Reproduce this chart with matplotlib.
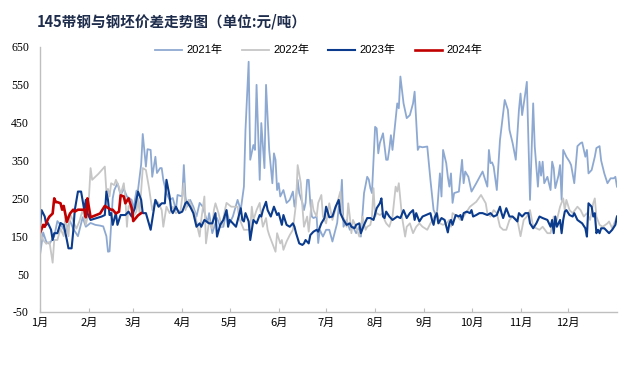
import matplotlib
matplotlib.use("Agg")
import matplotlib.pyplot as plt

# day-of-year positions and price spread values (yuan/ton)
days_2021 = [0, 2, 4, 6, 9, 11, 14, 16, 19, 21, 24, 27, 29, 32, 35, 38, 40, 42, 43, 44,
             46, 47, 49, 51, 53, 55, 58, 59, 61, 62, 64, 65, 67, 68, 70, 71, 73, 74, 76, 77,
             78, 80, 82, 84, 86, 87, 90, 91, 92, 93, 95, 97, 99, 101, 103, 106, 107, 109, 112, 114,
             116, 118, 120, 122, 125, 127, 129, 130, 132, 133, 135, 136, 137, 138, 139, 140, 142, 143, 145, 147,
             148, 149, 150, 151, 152, 154, 156, 158, 160, 161, 162, 163, 164, 166, 167, 168, 169, 170, 171, 172,
             173, 175, 176, 177, 179, 181, 183, 185, 188, 189, 190, 191, 192, 194, 196, 198, 200, 202, 203, 205,
             206, 207, 208, 209, 210, 211, 212, 213, 214, 215, 217, 219, 220, 221, 222, 223, 226, 227, 228, 230,
             232, 234, 236, 237, 239, 240, 242, 245, 247, 249, 251, 253, 254, 255, 257, 258, 259, 260, 261, 262,
             265, 267, 268, 269, 271, 273, 276, 280, 283, 284, 285, 286, 287, 289, 291, 294, 296, 297, 299, 301,
             303, 304, 305, 307, 308, 310, 312, 313, 315, 316, 317, 318, 319, 321, 323, 324, 325, 326, 328, 329,
             330, 331, 333, 335, 336, 338, 340, 342, 343, 345, 346, 347, 349, 351, 352, 354, 355, 357, 358, 359,
             361, 363, 364, 365]
vals_2021 = [100, 160, 135, 130, 150, 190, 175, 160, 190, 170, 150, 200, 175, 185, 180, 178, 176, 150, 109, 110,
             250, 272, 290, 259, 275, 255, 246, 220, 270, 272, 340, 420, 334, 380, 378, 307, 360, 317, 330, 330,
             299, 264, 246, 251, 219, 259, 255, 338, 255, 228, 246, 228, 202, 238, 228, 185, 211, 158, 198, 175,
             175, 219, 185, 202, 246, 219, 281, 431, 611, 352, 391, 378, 550, 423, 299, 449, 330, 550, 378, 290,
             369, 352, 272, 290, 255, 272, 238, 246, 268, 228, 251, 299, 264, 238, 219, 238, 299, 299, 238, 202,
             198, 202, 132, 167, 149, 167, 167, 136, 185, 228, 228, 299, 175, 193, 167, 175, 158, 175, 149, 264,
             285, 307, 300, 277, 264, 352, 439, 435, 369, 396, 422, 352, 352, 380, 417, 378, 501, 488, 572, 501,
             462, 470, 501, 532, 378, 387, 385, 387, 299, 219, 202, 316, 255, 378, 343, 307, 281, 316, 238, 264,
             268, 352, 290, 321, 307, 268, 290, 321, 281, 378, 343, 345, 334, 272, 404, 510, 484, 431, 396, 352,
             484, 527, 470, 527, 558, 246, 501, 387, 281, 347, 310, 347, 290, 307, 272, 347, 330, 277, 310, 338,
             246, 378, 360, 347, 338, 290, 388, 396, 398, 360, 378, 316, 325, 360, 383, 388, 350, 316, 303, 290,
             303, 303, 307, 281]

days_2022 = [0, 2, 4, 6, 8, 9, 11, 13, 15, 16, 18, 19, 21, 23, 25, 27, 29, 30, 31, 32,
             33, 37, 41, 42, 43, 44, 45, 47, 48, 50, 51, 53, 54, 55, 56, 58, 59, 61, 62, 63,
             65, 67, 69, 71, 73, 75, 77, 78, 80, 82, 84, 86, 89, 91, 92, 94, 96, 98, 100, 101,
             102, 104, 105, 107, 109, 110, 111, 113, 115, 117, 118, 121, 123, 125, 126, 129, 131, 133, 134, 135,
             137, 139, 140, 141, 143, 144, 145, 147, 149, 150, 152, 153, 154, 156, 158, 160, 162, 163, 165, 166,
             167, 169, 170, 172, 173, 175, 176, 178, 179, 181, 183, 185, 188, 190, 191, 192, 194, 195, 196, 197,
             198, 200, 202, 204, 206, 207, 209, 210, 211, 212, 213, 215, 217, 218, 219, 221, 223, 225, 226, 227,
             229, 231, 232, 234, 236, 238, 240, 242, 245, 247, 249, 251, 253, 255, 257, 259, 260, 261, 264, 266,
             268, 270, 272, 276, 279, 282, 283, 285, 287, 289, 291, 293, 295, 297, 299, 302, 304, 306, 308, 310,
             312, 314, 316, 318, 321, 323, 325, 327, 329, 331, 332, 333, 335, 337, 340, 342, 344, 346, 348, 350,
             351, 352, 354, 356, 359, 360, 362, 365]
vals_2022 = [160, 140, 130, 135, 80, 140, 140, 170, 150, 200, 150, 210, 190, 170, 190, 220, 180, 200, 255, 330,
             299, 315, 334, 268, 275, 255, 290, 285, 299, 280, 260, 290, 250, 175, 230, 220, 202, 215, 250, 211,
             330, 325, 277, 219, 246, 238, 219, 175, 228, 211, 228, 211, 219, 290, 219, 246, 228, 211, 167, 149,
             193, 255, 131, 190, 170, 219, 237, 210, 175, 219, 238, 228, 228, 228, 198, 167, 167, 167, 228, 193,
             219, 238, 202, 175, 198, 167, 153, 131, 109, 158, 131, 140, 114, 136, 153, 167, 238, 338, 290, 228,
             175, 202, 162, 246, 219, 202, 238, 259, 202, 184, 237, 193, 237, 268, 211, 198, 175, 237, 202, 158,
             193, 175, 149, 202, 167, 175, 180, 202, 277, 202, 211, 206, 211, 193, 184, 175, 202, 281, 268, 290,
             202, 149, 175, 184, 158, 175, 184, 175, 167, 184, 196, 215, 184, 180, 184, 193, 175, 211, 202, 193,
             202, 215, 228, 241, 259, 237, 211, 202, 219, 211, 175, 167, 167, 193, 202, 193, 150, 193, 202, 219,
             175, 171, 167, 175, 158, 158, 202, 193, 228, 250, 219, 246, 219, 211, 228, 219, 202, 211, 193, 237,
             250, 202, 180, 175, 184, 189, 171, 202]

days_2023 = [0, 1, 3, 4, 5, 7, 8, 9, 11, 13, 15, 17, 18, 20, 21, 22, 24, 26, 28, 29,
             30, 32, 36, 39, 41, 42, 43, 44, 45, 46, 48, 49, 51, 54, 56, 58, 60, 62, 64, 65,
             67, 70, 72, 73, 75, 77, 79, 80, 82, 83, 84, 86, 88, 90, 92, 93, 95, 97, 99, 101,
             102, 104, 107, 109, 111, 112, 114, 116, 118, 119, 120, 122, 124, 127, 128, 129, 130, 132, 133, 135,
             137, 139, 140, 141, 143, 144, 146, 148, 150, 151, 153, 154, 156, 158, 160, 161, 162, 164, 166, 167,
             168, 170, 171, 173, 175, 176, 178, 180, 181, 183, 185, 187, 189, 190, 192, 194, 196, 197, 199, 200,
             202, 203, 205, 207, 209, 211, 213, 215, 216, 217, 218, 219, 221, 223, 226, 228, 230, 232, 234, 236,
             237, 238, 240, 242, 247, 248, 249, 250, 251, 252, 254, 256, 258, 259, 260, 261, 263, 265, 266, 267,
             268, 270, 272, 273, 274, 276, 278, 280, 283, 285, 287, 289, 291, 292, 293, 295, 297, 299, 302, 303,
             305, 307, 309, 310, 312, 314, 316, 318, 321, 323, 324, 325, 326, 327, 329, 330, 331, 332, 333, 335,
             337, 338, 340, 343, 345, 346, 347, 349, 350, 351, 352, 353, 354, 355, 357, 360, 362, 364, 365]
vals_2023 = [175, 219, 202, 180, 185, 167, 140, 158, 158, 185, 180, 140, 118, 118, 162, 219, 268, 268, 219, 246,
             211, 193, 198, 202, 206, 268, 246, 206, 211, 180, 211, 180, 206, 206, 215, 202, 224, 268, 246, 211,
             211, 167, 219, 246, 228, 237, 237, 299, 255, 219, 211, 228, 211, 215, 237, 241, 228, 211, 175, 184,
             175, 193, 184, 184, 211, 149, 180, 193, 219, 175, 193, 184, 175, 224, 193, 189, 211, 189, 140, 193,
             184, 206, 202, 219, 241, 219, 202, 228, 206, 211, 180, 206, 180, 175, 184, 175, 158, 131, 127, 131,
             140, 131, 153, 162, 167, 162, 184, 198, 228, 200, 202, 228, 246, 211, 193, 180, 184, 175, 171, 180,
             184, 158, 180, 198, 198, 193, 224, 237, 250, 202, 198, 215, 202, 193, 202, 198, 219, 198, 211, 219,
             193, 211, 189, 202, 211, 193, 180, 202, 211, 184, 198, 193, 160, 184, 193, 180, 206, 202, 206, 193,
             211, 215, 211, 219, 202, 206, 211, 211, 206, 211, 202, 206, 228, 211, 198, 224, 202, 202, 189, 211,
             202, 211, 211, 184, 171, 184, 202, 198, 193, 175, 193, 158, 202, 175, 193, 158, 193, 215, 219, 206,
             202, 211, 193, 184, 171, 149, 237, 228, 202, 211, 158, 167, 158, 171, 171, 158, 167, 180, 202]

days_2024 = [0, 2, 3, 5, 6, 8, 9, 10, 11, 13, 14, 15, 17, 18, 19, 21, 22, 24, 26, 28,
             29, 30, 31, 32, 35, 38, 41, 43, 45, 46, 48, 50, 51, 53, 54, 56, 58, 59, 60, 62, 64]
vals_2024 = [158, 180, 175, 195, 202, 210, 250, 240, 240, 237, 220, 230, 188, 200, 210, 220, 215, 220, 220, 220,
             200, 250, 225, 200, 205, 210, 230, 225, 220, 220, 210, 215, 258, 255, 237, 250, 225, 190, 195, 205, 211]

month_starts = [0, 31, 59, 90, 120, 151, 181, 212, 243, 273, 304, 334]
month_labels = ["1月", "2月", "3月", "4月", "5月", "6月", "7月", "8月", "9月", "10月", "11月", "12月"]
y_ticks = [-50, 50, 150, 250, 350, 450, 550, 650]

fig = plt.figure(figsize=(6.38, 3.70), dpi=100)
ax = fig.add_axes([0.0627, 0.157, 0.9043, 0.716])

ax.plot(days_2021, vals_2021, color="#8ea9d1", lw=1.3, label="2021年")
ax.plot(days_2022, vals_2022, color="#c6c6c6", lw=1.3, label="2022年")
ax.plot(days_2023, vals_2023, color="#0b3b8c", lw=1.5, label="2023年")
ax.plot(days_2024, vals_2024, color="#c00000", lw=1.9, label="2024年")

ax.set_xlim(0, 365)
ax.set_ylim(-50, 650)
ax.set_xticks(month_starts)
ax.set_xticklabels(month_labels, family=["Noto Sans CJK SC"], fontsize=8)
ax.set_yticks(y_ticks)
ax.set_yticklabels([str(v) for v in y_ticks], family="Liberation Serif", fontsize=8.5)
ax.tick_params(axis="x", direction="in", length=3, color="#bfbfbf", pad=4)
ax.tick_params(axis="y", length=0, pad=8)

for side in ["top", "right"]:
    ax.spines[side].set_visible(False)
for side in ["left", "bottom"]:
    ax.spines[side].set_color("#bfbfbf")
    ax.spines[side].set_linewidth(1.0)

ax.legend(loc="upper center", bbox_to_anchor=(0.483, 1.045), ncol=4, frameon=False,
          handlelength=2.4, columnspacing=1.75, handletextpad=0.4,
          prop={"family": ["Liberation Sans", "Noto Sans CJK SC"], "size": 8})

fig.text(0.058, 0.943, "145带钢与钢坯价差走势图（单位:元/吨）", family=["Noto Sans CJK SC"],
         fontsize=10.5, fontweight="bold", color="#1f2d4d", va="center", ha="left")

fig.savefig("out.png", dpi=100)
